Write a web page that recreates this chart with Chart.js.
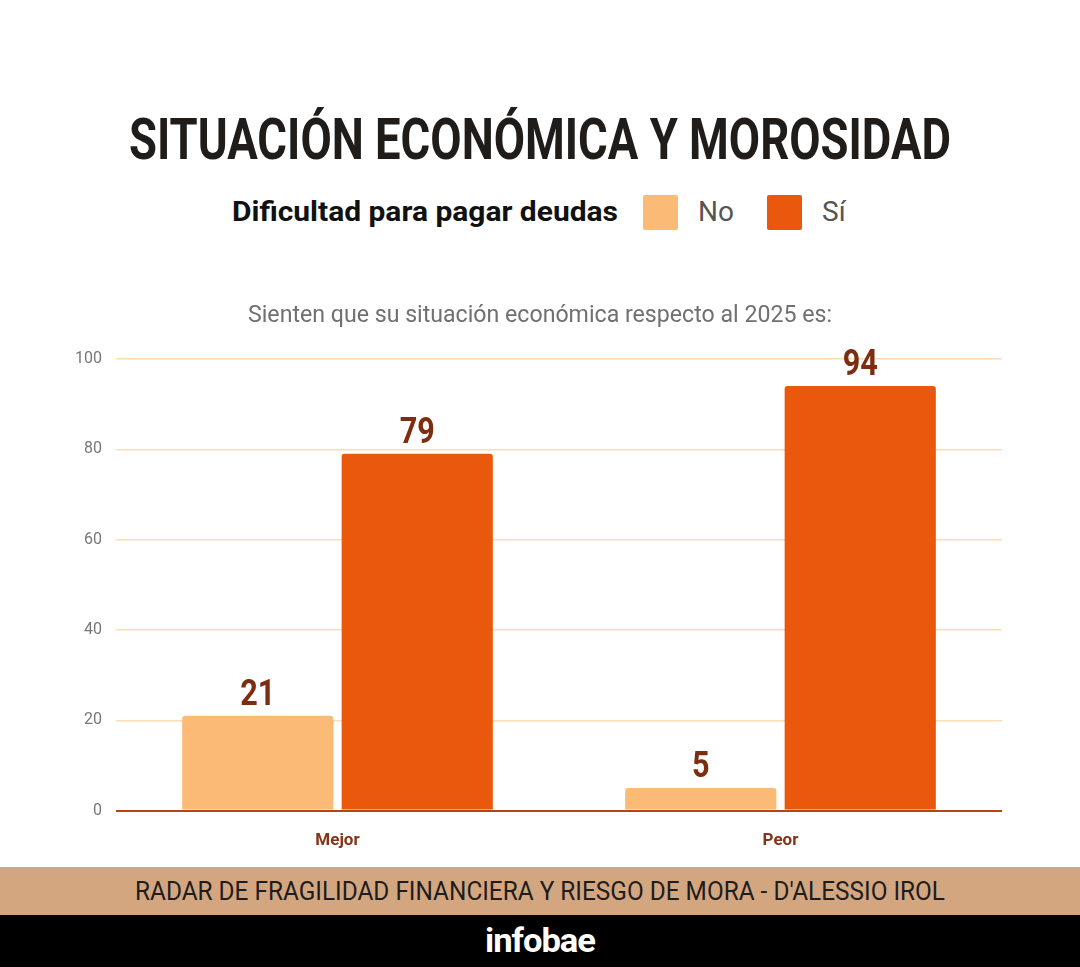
<!DOCTYPE html>
<html lang="es">
<head>
<meta charset="utf-8">
<title>Situación económica y morosidad</title>
<script src="https://cdn.jsdelivr.net/npm/chart.js@4"></script>
<style>
    html, body { margin: 0; padding: 0; background: #fff; }
    body { width: 1080px; height: 967px; position: relative; overflow: hidden; font-family: Roboto, "Noto Sans", sans-serif; }
    .fit { position: absolute; white-space: nowrap; transform-origin: left top; }
    #title { top: 104px; font-family: "Liberation Sans Narrow", Roboto, sans-serif; font-weight: 700; font-size: 58px; line-height: 70px; color: #1f1c1a; }
    #legendTitle { top: 194px; font-weight: 700; font-size: 28px; line-height: 36px; color: #111; }
    .swatch { position: absolute; top: 195px; width: 35px; height: 35px; border-radius: 2px; }
    .legText { position: absolute; top: 194px; font-size: 28px; line-height: 36px; color: #555; }
    #subtitle { top: 301px; font-size: 23px; line-height: 28px; color: #707070; }
    #chartWrap { position: absolute; left: 0; top: 290px; width: 1080px; height: 577px; }
    #band { position: absolute; left: 0; top: 867px; width: 1080px; height: 48px; background: #d4a680; }
    #source { top: 876px; font-size: 26px; line-height: 30px; color: #1d1d1d; }
    #footer { position: absolute; left: 0; top: 915px; width: 1080px; height: 52px; background: #000; }
    #brand { top: 921px; font-weight: 700; font-size: 34px; line-height: 38px; color: #fff; letter-spacing: -1px; }
</style>
</head>
<body>
    <div id="title" class="fit">SITUACIÓN ECONÓMICA Y MOROSIDAD</div>
    <div id="legendTitle" class="fit">Dificultad para pagar deudas</div>
    <div class="swatch" id="swNo" style="left:643px"></div>
    <div class="legText" id="txtNo" style="left:698px">No</div>
    <div class="swatch" id="swSi" style="left:767px"></div>
    <div class="legText" id="txtSi" style="left:822px">Sí</div>
    <div id="chartWrap"><canvas id="chart"></canvas></div>
    <div id="subtitle" class="fit">Sienten que su situación económica respecto al 2025 es:</div>
    <div id="band"></div>
    <div id="source" class="fit">RADAR DE FRAGILIDAD FINANCIERA Y RIESGO DE MORA - D'ALESSIO IROL</div>
    <div id="footer"></div>
    <div id="brand" class="fit">infobae</div>

<script>
// Data
const categories = ['Mejor', 'Peor'];
const seriesNames = ['No', 'Sí'];
const noValues = [21, 5];
const siValues = [79, 94];
const yTicks = [0, 20, 40, 60, 80, 100];

const colorNo = '#fcba77';
const colorSi = '#e9580c';
const labelColor = '#7e2d10';

document.getElementById('swNo').style.background = colorNo;
document.getElementById('swSi').style.background = colorSi;

// Squeeze text to a target width, centered on cx (fakes the condensed font)
function fitText(id, targetWidth, cx) {
    const el = document.getElementById(id);
    const w = el.getBoundingClientRect().width;
    const s = targetWidth / w;
    el.style.left = (cx - targetWidth / 2) + 'px';
    el.style.transform = 'scaleX(' + s + ')';
}
fitText('title', 822, 540);
fitText('legendTitle', 386, 425);
fitText('subtitle', 584, 540);
fitText('source', 810, 540);
fitText('brand', 110, 540);

// Bold value labels above the bars
const valueLabels = {
    id: 'valueLabels',
    afterDatasetsDraw(chart) {
        const ctx = chart.ctx;
        ctx.save();
        ctx.fillStyle = labelColor;
        ctx.font = 'bold 36px "Liberation Sans Narrow", Roboto, sans-serif';
        ctx.textAlign = 'center';
        ctx.textBaseline = 'alphabetic';
        chart.data.datasets.forEach((ds, i) => {
            chart.getDatasetMeta(i).data.forEach((bar, j) => {
                ctx.save();
                ctx.translate(bar.x, bar.y - 11);
                ctx.scale(0.85, 1);
                ctx.fillText(String(ds.data[j]), 0, 0);
                ctx.restore();
            });
        });
        ctx.restore();
    }
};

const chart = new Chart(document.getElementById('chart'), {
    type: 'bar',
    data: {
        labels: categories,
        datasets: [
            {
                label: seriesNames[0],
                data: noValues,
                backgroundColor: colorNo,
                borderRadius: { topLeft: 3, topRight: 3 },
                borderSkipped: 'bottom',
                categoryPercentage: 0.72,
                barPercentage: 0.948
            },
            {
                label: seriesNames[1],
                data: siValues,
                backgroundColor: colorSi,
                borderRadius: { topLeft: 3, topRight: 3 },
                borderSkipped: 'bottom',
                categoryPercentage: 0.72,
                barPercentage: 0.948
            }
        ]
    },
    options: {
        responsive: true,
        maintainAspectRatio: false,
        animation: false,
        layout: {
            padding: { top: 69, right: 78, bottom: 4, left: 0 }
        },
        plugins: {
            legend: { display: false },
            tooltip: { enabled: false }
        },
        scales: {
            y: {
                min: 0,
                max: 100,
                afterBuildTicks: (scale) => {
                    scale.ticks = yTicks.map(v => ({ value: v }));
                },
                afterFit: (scale) => { scale.width = 116; },
                border: { display: false },
                grid: {
                    drawTicks: false,
                    color: (c) => c.tick && c.tick.value === 0 ? '#b4441b' : '#fddcb6',
                    lineWidth: (c) => c.tick && c.tick.value === 0 ? 2 : 1.5
                },
                ticks: {
                    color: '#777',
                    padding: 14,
                    font: { family: 'Roboto', size: 16 }
                }
            },
            x: {
                grid: { display: false },
                border: { display: false },
                ticks: {
                    color: '#86331a',
                    padding: 12,
                    font: { family: 'Roboto', size: 17, weight: 'bold' }
                }
            }
        }
    },
    plugins: [valueLabels]
});
</script>
</body>
</html>
